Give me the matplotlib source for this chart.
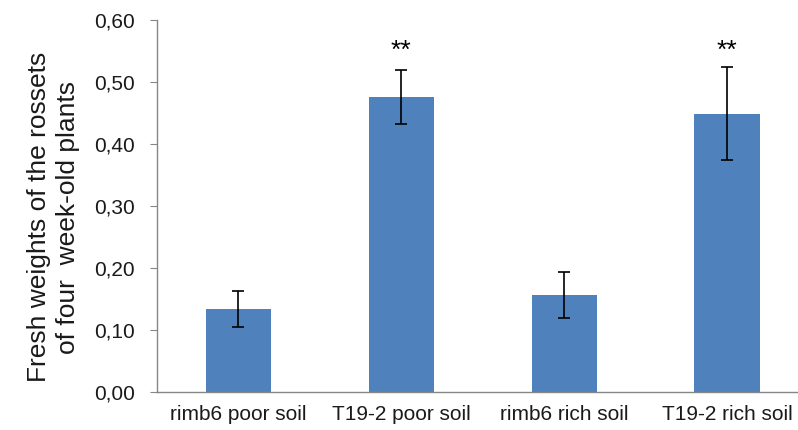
import matplotlib
matplotlib.use("Agg")
import matplotlib.pyplot as plt

categories = ["rimb6 poor soil", "T19-2 poor soil", "rimb6 rich soil", "T19-2 rich soil"]
weights = [0.134, 0.476, 0.156, 0.449]
errors = [0.029, 0.043, 0.037, 0.075]
marks = ["", "**", "", "**"]
yticks = [0.0, 0.1, 0.2, 0.3, 0.4, 0.5, 0.6]

plt.rcParams['font.family'] = ['Liberation Sans', 'DejaVu Sans']

fig = plt.figure(figsize=(7.98, 4.30), dpi=100)
ax = fig.add_axes([157 / 798, 1 - 392 / 430, 640 / 798, 372 / 430])

x = range(len(categories))
ax.bar(x, weights, width=0.4, color="#4F81BD", zorder=2)
ax.errorbar(x, weights, yerr=errors, fmt="none", ecolor="black",
            elinewidth=1.2, capsize=4.5, capthick=1.2, zorder=3)
for i, m in enumerate(marks):
    if m:
        ax.text(i, 0.55, m, ha="center", va="center", fontsize=19)

ax.set_xlim(-0.5, 3.43)
ax.set_ylim(0, 0.6)
ax.set_yticks(yticks)
ax.set_yticklabels([f"{v:.2f}".replace(".", ",") for v in yticks])
ax.set_xticks(list(x))
ax.set_xticklabels(categories)

for s in ["top", "right"]:
    ax.spines[s].set_visible(False)
for s in ["left", "bottom"]:
    ax.spines[s].set_color("#868686")
    ax.spines[s].set_linewidth(1.0)
ax.tick_params(axis="y", colors="#868686", labelcolor="#1a1a1a", labelsize=15,
               length=5, direction="out", pad=11)
ax.tick_params(axis="x", length=0, labelsize=15, labelcolor="#1a1a1a", pad=9)

ax.set_ylabel("Fresh weights of the rossets\nof four  week-old plants",
              fontsize=19, color="#1a1a1a", linespacing=1.3)
ax.yaxis.set_label_coords(-0.12, 0.47)

fig.savefig("out.png", dpi=100)
